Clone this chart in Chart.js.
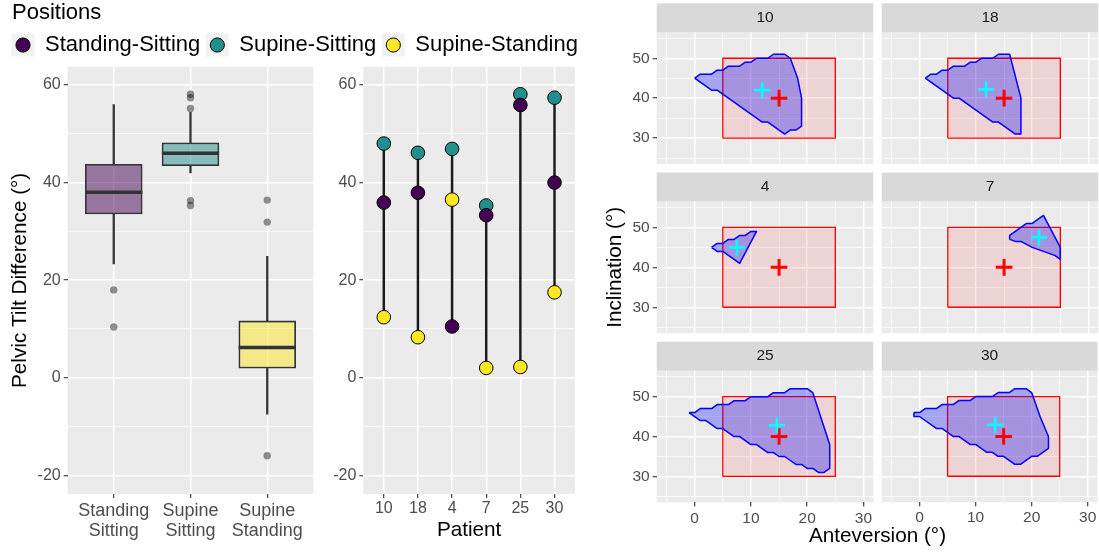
<!DOCTYPE html>
<html>
<head>
<meta charset="utf-8">
<script src="https://cdn.jsdelivr.net/npm/chart.js@4.4.1/dist/chart.umd.min.js"></script>
<style>
html, body { margin: 0; padding: 0; background: #ffffff; }
#wrap { position: relative; width: 1099px; height: 552px; overflow: hidden; background: #ffffff; }
canvas { position: absolute; }
</style>
</head>
<body>
<div id="wrap">
  <canvas id="legend" width="600" height="200" style="left:0px;top:0px"></canvas>
  <canvas id="box" width="320" height="552" style="left:0px;top:0px"></canvas>
  <canvas id="dumb" width="280" height="552" style="left:320px;top:0px"></canvas>
  <canvas id="f0" width="499" height="552" style="left:600px;top:0px"></canvas>
  <canvas id="f1" width="499" height="552" style="left:600px;top:0px"></canvas>
  <canvas id="f2" width="499" height="552" style="left:600px;top:0px"></canvas>
  <canvas id="f3" width="499" height="552" style="left:600px;top:0px"></canvas>
  <canvas id="f4" width="499" height="552" style="left:600px;top:0px"></canvas>
  <canvas id="f5" width="499" height="552" style="left:600px;top:0px"></canvas>
</div>
<script>
// ---------------- DATA ----------------
const positions = ['Standing-Sitting', 'Supine-Sitting', 'Supine-Standing'];

// Box plot (Pelvic Tilt Difference by position pair)
const boxLabels = [['Standing', 'Sitting'], ['Supine', 'Sitting'], ['Supine', 'Standing']];
const whiskerLow = [23.3, 42.0, -7.5];
const quartile1 = [33.5, 43.4, 1.9];
const medianValue = [38.0, 46.0, 6.2];
const quartile3 = [43.8, 48.2, 11.7];
const whiskerHigh = [56.0, 54.4, 24.9];
const outliersStandingSitting = [18.0, 10.4];
const outliersSupineSitting = [58.1, 57.4, 55.2, 36.3, 35.3];
const outliersSupineStanding = [36.4, 31.9, -16.0];
const tiltTicks = [-20, -10, 0, 10, 20, 30, 40, 50, 60];

// Dumbbell (per patient)
const patients = ['10', '18', '4', '7', '25', '30'];
const standingSitting = [35.9, 37.9, 10.5, 33.3, 55.9, 40.0];
const supineSitting = [48.0, 46.1, 46.9, 35.3, 58.1, 57.4];
const supineStanding = [12.4, 8.3, 36.5, 2.0, 2.2, 17.5];

// Facets (Anteversion / Inclination)
const facetPatients = ['10', '18', '4', '7', '25', '30'];
const outline10 = [[0,45],[1,46],[3,46],[4,47],[5,47],[6,48],[8,48],[9,49],[10,49],[11,50],[13,50],[14,51],[16,51],[17,50],[18.3,45],[19,40],[19,33],[18,32],[17,32],[16,31],[13,34],[12,34],[4,42],[3,42],[0,45]];
const outline18 = [[1,45],[2,46],[3,46],[4,47],[5,47],[6,48],[8,48],[9,49],[10,49],[11,50],[13,50],[14,51],[16,51],[18,40],[18,31],[17,31],[14,34],[13,34],[7,40],[6,40],[1,45]];
const outline4 = [[3,45],[4,46],[5,46],[6,47],[7,47],[8,48],[9,48],[10,49],[11,49],[8,41],[7,42],[5,44],[4,44],[3,45]];
const outline7 = [[16,47],[16,48],[17,49],[18,50],[19,51],[20,51],[22,53],[25,45],[25,42],[24,43],[23,43.5],[21,44.5],[20,45],[18,46.5],[17,46.5],[16,47]];
const outline25 = [[-1,46],[0,46],[1,47],[3,47],[4,48],[6,48],[7,49],[9,49],[10,50],[13,50],[14,51],[16,51],[17,52],[20,52],[21,51],[24,38],[24,32],[23,31],[22,31],[21,32],[20,32],[19,33],[18,33],[17,34],[16,35],[15,35],[14,36],[13,36],[11,38],[10,38],[9,39],[8,40],[7,40],[5,42],[4,42],[2,44],[1,44],[0,45],[-1,46]];
const outline30 = [[-1,46],[0,46],[1,47],[3,47],[4,48],[6,48],[7,49],[9,49],[10,50],[13,50],[14,51],[16,51],[17,52],[19,52],[20,51],[21.5,45],[23,40],[23,37],[22,36],[21,35],[20,35],[19,34],[18,33],[17,33],[16,34],[15,35],[14,35],[13,36],[12,36],[10,38],[9,38],[7,40],[6,40],[4,42],[3,42],[1,44],[0,45],[-1,45],[-1,46]];
const meanAnteversion = [12.0, 11.8, 7.5, 21.2, 14.6, 13.5];
const meanInclination = [42.0, 42.2, 45.0, 47.5, 42.8, 42.9];
const targetAnteversion = [15];
const targetInclination = [40];
const safeAnteversion = [5, 25];
const safeInclination = [30, 50];
const anteversionTicks = [-5, 0, 5, 10, 15, 20, 25, 30];
const inclinationTicks = [25, 30, 35, 40, 45, 50, 55];

// ---------------- STYLE ----------------
const FONT = '"Liberation Sans", Arial, Helvetica, sans-serif';
Chart.defaults.font.family = FONT;
Chart.defaults.color = '#4D4D4D';
const viridis = ['#440154', '#21908C', '#FDE725'];
const viridisHalf = ['rgba(68,1,84,0.5)', 'rgba(33,144,140,0.5)', 'rgba(253,231,37,0.5)'];
const PANEL = '#EBEBEB';

const panelBg = {
  id: 'panelBg',
  beforeDraw(chart, args, opts) {
    const a = chart.chartArea;
    const ctx = chart.ctx;
    ctx.save();
    ctx.fillStyle = opts.color || PANEL;
    ctx.fillRect(a.left, a.top, a.right - a.left, a.bottom - a.top);
    if (opts.strip && chart.titleBlock) {
      const t = chart.titleBlock;
      ctx.fillStyle = opts.strip;
      ctx.fillRect(a.left, t.top, a.right - a.left, t.bottom - t.top);
    }
    ctx.restore();
  }
};

const keyBg = {
  id: 'keyBg',
  beforeDraw(chart) {
    const lg = chart.legend;
    if (!lg || !lg.legendHitBoxes) return;
    const lab = lg.options.labels;
    const fs = lab.font.size;
    const bw = Math.min(lab.boxWidth, fs);
    const ctx = chart.ctx;
    ctx.save();
    ctx.fillStyle = '#F2F2F2';
    lg.legendHitBoxes.forEach(hb => {
      const cx = hb.left + bw / 2, cy = hb.top + fs / 2;
      ctx.fillRect(cx - 11.5, cy - 11.5, 23, 23);
    });
    ctx.restore();
  }
};

function gridOpts(isMajor, showTicks) {
  return {
    color: '#FFFFFF',
    lineWidth: c => (c.tick && isMajor(c.tick.value)) ? 1.4 : 0.7,
    drawTicks: showTicks,
    tickLength: 4,
    tickWidth: 1.1,
    tickColor: c => (c.tick && isMajor(c.tick.value)) ? '#333333' : 'rgba(0,0,0,0)'
  };
}
const major20 = v => v % 20 === 0;
const major10 = v => v % 10 === 0;
const allMajor = () => true;

const baseOpts = {
  responsive: false,
  maintainAspectRatio: false,
  devicePixelRatio: 1,
  animation: false,
  events: []
};

// ---------------- LEGEND ----------------
new Chart(document.getElementById('legend'), {
  type: 'scatter',
  data: {
    datasets: positions.map((name, i) => ({
      label: name, data: [],
      backgroundColor: viridis[i], borderColor: '#000000', borderWidth: 1,
      pointStyle: 'circle'
    }))
  },
  options: Object.assign({}, baseOpts, {
    layout: { padding: { left: 6, top: 0 }, autoPadding: false },
    scales: {
      x: { display: false },
      y: { display: true, afterFit: ax => { ax.width = 6; }, grid: { display: false },
           ticks: { display: false }, border: { display: false } }
    },
    plugins: {
      tooltip: { enabled: false },
      title: { display: true, text: 'Positions', align: 'start', color: '#000000', fullSize: false,
               font: { size: 22, weight: 'normal' }, padding: { top: 0, bottom: 1.6 } },
      legend: {
        position: 'top', align: 'start', maxHeight: 150,
        labels: { usePointStyle: true, boxWidth: 22, boxHeight: 10, color: '#000000',
                  font: { size: 22 }, padding: 6 }
      }
    }
  }),
  plugins: [keyBg]
});

// ---------------- BOX PLOT ----------------
const tiltMin = -23.84, tiltMax = 63.75;
function tiltAxis(width, withTitle) {
  return {
    type: 'linear', position: 'left', min: tiltMin, max: tiltMax,
    afterBuildTicks: ax => { ax.ticks = tiltTicks.map(v => ({ value: v })); },
    afterFit: ax => { ax.width = width; },
    grid: gridOpts(major20, true),
    border: { display: false },
    ticks: { callback: v => major20(v) ? String(v) : '', color: '#4D4D4D', font: { size: 16 }, padding: 3 },
    title: withTitle ? { display: true, text: 'Pelvic Tilt Difference (°)', color: '#000000',
                         font: { size: 20.7 }, padding: { top: 7.7, bottom: 0 } } : { display: false }
  };
}

const outlierPoints = [];
[outliersStandingSitting, outliersSupineSitting, outliersSupineStanding].forEach((arr, i) => {
  arr.forEach(v => outlierPoints.push({ x: i + 1, y: v }));
});

new Chart(document.getElementById('box'), {
  type: 'bar',
  data: {
    datasets: [
      { type: 'bar', label: 'box', data: boxLabels.map((_, i) => ({ x: i + 1, y: [quartile1[i], quartile3[i]] })),
        backgroundColor: viridisHalf, borderColor: '#333333', borderWidth: 1.8, borderSkipped: false,
        grouped: false, barPercentage: 0.75, categoryPercentage: 1, order: 3 },
      { type: 'bar', label: 'upper', data: boxLabels.map((_, i) => ({ x: i + 1, y: [quartile3[i], whiskerHigh[i]] })),
        backgroundColor: '#333333', borderWidth: 0, barThickness: 1.6, grouped: false, order: 5 },
      { type: 'bar', label: 'lower', data: boxLabels.map((_, i) => ({ x: i + 1, y: [whiskerLow[i], quartile1[i]] })),
        backgroundColor: '#333333', borderWidth: 0, barThickness: 1.6, grouped: false, order: 5 },
      { type: 'scatter', label: 'median', data: medianValue.map((m, i) => ({ x: i + 1, y: m })),
        pointStyle: 'line', pointRadius: 28.6, pointBorderWidth: 3.5, pointBorderColor: '#333333', order: 2 },
      { type: 'scatter', label: 'outliers', data: outlierPoints,
        pointRadius: 3.7, pointBackgroundColor: 'rgba(0,0,0,0.42)', pointBorderWidth: 0, order: 1 }
    ]
  },
  options: Object.assign({}, baseOpts, {
    layout: { padding: { top: 66.7, right: 6.7, bottom: 0, left: 0 }, autoPadding: false },
    plugins: { legend: { display: false }, tooltip: { enabled: false }, panelBg: { color: PANEL } },
    scales: {
      x: {
        type: 'linear', position: 'bottom', min: 0.4, max: 3.6, offset: false,
        afterBuildTicks: ax => { ax.ticks = boxLabels.map((_, i) => ({ value: i + 1 })); },
        afterFit: ax => { ax.height = 58; },
        grid: Object.assign(gridOpts(allMajor, true), { offset: false }),
        border: { display: false },
        ticks: { callback: v => boxLabels[v - 1], color: '#4D4D4D', font: { size: 18, lineHeight: 1.11 }, padding: 3, maxRotation: 0 }
      },
      y: tiltAxis(67.7, true)
    }
  }),
  plugins: [panelBg]
});

// ---------------- DUMBBELL ----------------
const seriesOrder = [
  { values: supineSitting, color: viridis[1], order: 3 },
  { values: supineStanding, color: viridis[2], order: 2 },
  { values: standingSitting, color: viridis[0], order: 1 }
];
const dumbDatasets = [
  { type: 'bar', label: 'range',
    data: patients.map((p, i) => {
      const vals = [standingSitting[i], supineSitting[i], supineStanding[i]];
      return { x: i + 1, y: [Math.min(...vals), Math.max(...vals)] };
    }),
    backgroundColor: '#1A1A1A', borderWidth: 0, barThickness: 1.8, grouped: false, order: 10 }
];
seriesOrder.forEach(s => {
  dumbDatasets.push({
    type: 'scatter', label: 'pts',
    data: patients.map((p, i) => ({ x: i + 1, y: s.values[i] })),
    pointRadius: 6.8, pointBackgroundColor: s.color, pointBorderColor: '#000000', pointBorderWidth: 1,
    order: s.order
  });
});

new Chart(document.getElementById('dumb'), {
  type: 'bar',
  data: { datasets: dumbDatasets },
  options: Object.assign({}, baseOpts, {
    layout: { padding: { top: 66.7, right: 25, bottom: 0, left: 0 }, autoPadding: false },
    plugins: { legend: { display: false }, tooltip: { enabled: false }, panelBg: { color: PANEL } },
    scales: {
      x: {
        type: 'linear', position: 'bottom', min: 0.4, max: patients.length + 0.6, offset: false,
        afterBuildTicks: ax => { ax.ticks = patients.map((_, i) => ({ value: i + 1 })); },
        afterFit: ax => { ax.height = 58; },
        grid: Object.assign(gridOpts(allMajor, true), { offset: false }),
        border: { display: false },
        ticks: { callback: v => patients[v - 1], color: '#4D4D4D', font: { size: 16 }, padding: 1, maxRotation: 0 },
        title: { display: true, text: 'Patient', color: '#000000', font: { size: 20.7 }, padding: { top: 0, bottom: 9.6 } }
      },
      y: tiltAxis(43.3, false)
    }
  }),
  plugins: [panelBg]
});

// ---------------- FACETS ----------------
const outlines = [outline10, outline18, outline4, outline7, outline25, outline30];
const safeRect = [
  { x: safeAnteversion[0], y: safeInclination[0] },
  { x: safeAnteversion[1], y: safeInclination[0] },
  { x: safeAnteversion[1], y: safeInclination[1] },
  { x: safeAnteversion[0], y: safeInclination[1] },
  { x: safeAnteversion[0], y: safeInclination[0] }
];
const stripTops = [3.3, 172.5, 341.7];
const plotLefts = [56.7, 281.7];
const plotRights = [273.3, 498.3];
const STRIP_H = 29, PLOT_H = 131.7, CANVAS_W = 499, CANVAS_H = 552;

facetPatients.forEach((pid, k) => {
  const row = Math.floor(k / 2), col = k % 2;
  const isLeft = col === 0, isBottom = row === 2;
  const stripTop = stripTops[row];
  const plotBottom = stripTop + STRIP_H + PLOT_H;
  let yWidth = isLeft ? 56.7 : 0;
  if (isBottom && !isLeft) { yWidth = 225; }
  const padLeft = plotLefts[col] - yWidth;
  let xHeight = 0, padBottom = CANVAS_H - plotBottom;
  if (isBottom) {
    xHeight = isLeft ? (CANVAS_H - plotBottom) : 22;
    padBottom = 0;
  }
  const showYTitle = (k === 2);
  const showXTitle = (k === 5);

  new Chart(document.getElementById('f' + k), {
    type: 'scatter',
    data: {
      datasets: [
        { type: 'line', label: 'safe', data: safeRect, borderColor: '#FF0000', borderWidth: 1.3,
          backgroundColor: 'rgba(255,0,0,0.1)', fill: 'shape', pointRadius: 0, tension: 0, order: 4 },
        { type: 'line', label: 'outline', data: outlines[k].map(p => ({ x: p[0], y: p[1] })),
          borderColor: '#0000FF', borderWidth: 1.5, backgroundColor: 'rgba(0,0,255,0.3)',
          fill: 'shape', pointRadius: 0, tension: 0, borderJoinStyle: 'round', order: 3 },
        { type: 'scatter', label: 'target', data: [{ x: targetAnteversion[0], y: targetInclination[0] }],
          pointStyle: 'cross', pointRadius: 8.3, pointBorderWidth: 3, pointBorderColor: '#FF0000', order: 2 },
        { type: 'scatter', label: 'mean', data: [{ x: meanAnteversion[k], y: meanInclination[k] }],
          pointStyle: 'cross', pointRadius: 8, pointBorderWidth: 2.6, pointBorderColor: '#00FFFF', order: 1 }
      ]
    },
    options: Object.assign({}, baseOpts, {
      layout: { padding: { left: padLeft, right: CANVAS_W - plotRights[col], top: stripTop, bottom: padBottom }, autoPadding: false },
      plugins: {
        legend: { display: false }, tooltip: { enabled: false },
        panelBg: { color: PANEL, strip: '#D9D9D9' },
        title: { display: true, text: pid, color: '#1A1A1A', font: { size: 15.5, weight: 'normal' },
                 padding: { top: 5.2, bottom: 5.2 }, fullSize: false },
        subtitle: showXTitle ? { display: true, text: 'Anteversion (°)', position: 'bottom', color: '#000000',
                                 font: { size: 20.7 }, padding: { top: 0, bottom: 3 }, fullSize: true }
                             : { display: false }
      },
      scales: {
        x: {
          type: 'linear', position: 'bottom', min: -6.75, max: 31.75,
          afterBuildTicks: ax => { ax.ticks = anteversionTicks.map(v => ({ value: v })); },
          afterFit: ax => { ax.height = xHeight; },
          grid: gridOpts(major10, isBottom),
          border: { display: false },
          ticks: { display: isBottom, callback: v => major10(v) ? String(v) : '', color: '#4D4D4D',
                   font: { size: 15.5 }, padding: 2.6, maxRotation: 0 }
        },
        y: {
          type: 'linear', position: 'left', min: 23.5, max: 56.5,
          afterBuildTicks: ax => { ax.ticks = inclinationTicks.map(v => ({ value: v })); },
          afterFit: ax => { ax.width = yWidth; },
          grid: gridOpts(major10, isLeft),
          border: { display: false },
          ticks: { display: isLeft, callback: v => major10(v) ? String(v) : '', color: '#4D4D4D',
                   font: { size: 15.5 }, padding: 3 },
          title: showYTitle ? { display: true, text: 'Inclination (°)', color: '#000000',
                                font: { size: 20.7 }, padding: { top: 2.7, bottom: 0 } } : { display: false }
        }
      }
    }),
    plugins: [panelBg]
  });
});
</script>
</body>
</html>
